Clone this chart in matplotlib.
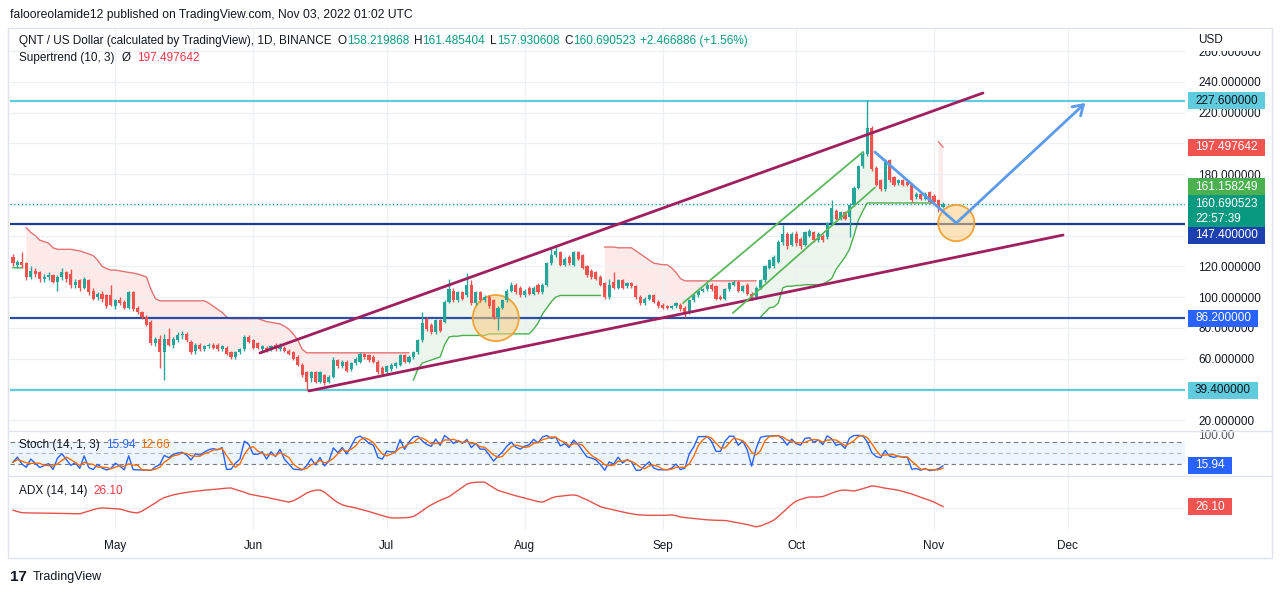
import numpy as np
import pandas as pd
import matplotlib
matplotlib.use("Agg")
import matplotlib.pyplot as plt
import matplotlib.dates as mdates
from matplotlib.patches import Rectangle
from matplotlib.lines import Line2D

plt.rcParams['font.family'] = ['Liberation Sans', 'DejaVu Sans']

# ---- data (QNT/USD daily) ----
start = '2022-04-08'
opens = [
    126, 121, 123, 122, 113, 117, 116, 112, 113, 114,
    110, 113, 116, 115, 108, 111, 106, 111, 104, 100,
    102, 101, 101, 94, 98, 97, 93, 103, 93, 90,
    87, 84, 70, 73, 64, 73, 69, 72, 75, 76,
    71, 65, 69, 66, 68, 69, 69, 66, 67, 64,
    61, 64, 66, 74, 72, 70, 66, 67, 66, 69,
    66, 67, 65, 64, 61, 56, 51, 47, 51, 45,
    49, 45, 48, 59, 55, 58, 53, 57, 58, 63,
    62, 61, 58, 54, 51, 53, 55, 56, 62, 58,
    61, 64, 72, 86, 82, 77, 85, 84, 97, 104,
    98, 103, 101, 108, 96, 103, 98, 100, 98, 87,
    93, 98, 104, 108, 106, 101, 106, 102, 108, 103,
    108, 122, 127, 129, 121, 126, 121, 129, 127, 120,
    117, 116, 113, 109, 100, 110, 106, 111, 107, 109,
    107, 100, 96, 99, 101, 97, 95, 94, 93, 94,
    95, 93, 90, 98, 101, 104, 105, 108, 107, 100,
    99, 105, 108, 110, 104, 108, 102, 100, 106, 111,
    119, 120, 123, 136, 141, 134, 141, 138, 134, 140,
    142, 137, 140, 139, 148, 156, 151, 155, 152, 160,
    171, 185, 193, 210, 184, 176, 170, 189, 178, 174,
    176, 175, 173, 165, 167, 164, 168, 166, 163, 158.219868,
]
highs = [
    128, 124, 129, 123, 120, 119, 117, 115, 116, 115,
    114, 119, 117, 118, 112, 112, 113, 112, 106, 103,
    104, 102, 108, 99, 100, 98, 104, 104, 94, 91,
    88, 85, 74, 75, 76, 80, 74, 77, 78, 77,
    72, 70, 70, 69, 70, 70, 70, 69, 68, 65,
    65, 67, 75, 75, 73, 71, 69, 68, 69, 70,
    70, 68, 66, 65, 62, 57, 52, 52, 52, 52,
    50, 49, 61, 60, 59, 59, 58, 61, 64, 63.5,
    63, 62, 59, 55, 56, 57, 58, 63, 63, 62,
    65, 73, 90, 87, 83, 86, 86, 98, 112, 106,
    104, 104, 115.6, 111, 104, 104, 101, 101, 99, 94,
    99, 105, 110, 109, 107, 105, 107, 107, 109, 109,
    123, 132.5, 134, 130, 126, 127, 130, 130, 128, 121,
    118, 117, 114, 110, 112, 116, 112, 112, 110, 110,
    108, 101, 100, 102, 102, 98, 96, 95, 95, 97,
    96, 94, 99, 102, 105, 106, 109, 109, 108, 101,
    106, 110, 111, 111, 108, 109, 103, 107, 112, 121,
    125, 127, 137, 147, 142, 142, 143, 139, 143, 144,
    143, 142, 141, 149, 163, 157, 156, 156, 161, 172,
    186, 195, 228, 211, 185, 177, 190, 190, 179, 177,
    177, 176, 174, 168, 168, 168, 169, 167, 164, 161.485404,
]
lows = [
    120, 119, 119, 111, 112, 113, 110, 110, 111, 109,
    104, 111, 110, 106, 106, 104, 105, 101, 98, 98,
    97, 93, 94, 92, 95, 92, 92, 91, 89, 86,
    81, 69, 68, 54, 46, 68, 67, 71, 73, 71,
    63, 63, 65, 65, 67, 66, 65, 65, 62, 60,
    60, 63, 65, 70, 66, 66, 65, 64, 65, 65,
    65, 64, 62, 59, 55, 48, 39.5, 45, 44, 44,
    43, 44, 47, 54, 54, 51, 52, 56, 57, 60,
    58, 57, 50, 49, 50, 52, 54, 55, 57, 57,
    60, 63, 71, 78, 76, 76, 77, 83, 96, 97,
    97, 98, 100, 95, 95, 97, 97, 93, 86, 78.5,
    92, 97, 103, 102, 100, 100, 101, 101, 102, 102,
    107, 121, 126, 120, 120, 121, 120, 124, 118, 113,
    112, 111, 107, 99, 99, 105, 105, 105, 106, 106,
    99, 95, 95, 98, 96, 93, 92, 92, 92, 93,
    91, 87, 89, 97, 100, 103, 104, 104, 98, 98,
    98, 104, 107, 103, 103, 101, 98, 99, 105, 110,
    118, 119, 122, 134, 131, 133, 133, 131, 133, 139,
    136, 136, 136, 138, 147, 150, 150, 150, 139, 159,
    170, 184, 192, 182, 172, 169, 169, 175, 172, 173,
    172, 172, 162, 164, 163, 163, 161, 161, 155.5, 157.930608,
]
closes = [
    122, 122.5, 121, 113, 117, 115, 112, 113, 114, 110,
    113, 116, 112, 108, 110, 106, 112, 103, 99, 102,
    99, 94, 95, 98, 96, 93, 103, 92, 90, 87,
    82, 70, 73, 64, 73, 69, 73, 75, 76, 72,
    64, 69, 66, 68, 69, 67, 66, 68, 63, 61,
    64, 66, 74, 71, 67, 67, 68, 65, 68, 66,
    69, 65, 63, 60, 56, 49, 45, 51, 45, 51,
    44, 48, 59, 55, 58, 52, 57, 60, 63, 61,
    59, 58, 51, 50, 55, 56, 57, 62, 58, 61,
    64, 72, 83, 79, 77, 85, 78, 97, 105, 98,
    103, 99, 108, 96, 103, 98, 100, 94, 87, 93,
    98, 104, 108, 103, 101, 104, 102, 106, 103, 108,
    122, 127, 130, 121, 125, 122, 129, 125, 119, 114,
    113, 112, 108, 100, 108, 106, 111, 106, 109, 107,
    100, 96, 99, 101, 97, 94, 93, 93, 94, 96,
    92, 89, 98, 101, 104, 105, 108, 105, 99, 99,
    105, 109, 110, 104, 107, 102, 99, 106, 111, 120,
    124, 126, 136, 141, 133, 141, 135, 133, 142, 143,
    137, 141, 137, 148, 158, 151, 155, 151, 160, 171,
    185, 193, 210, 183, 173, 170, 189, 176, 173, 176,
    173, 173, 163, 167, 164, 167, 162, 162, 158, 160.690523,
]
# Supertrend (10, 3) line as plotted
supertrend = (
    [119, 119, 119, 145, 142, 140, 137, 136, 135, 132,
     131, 131, 131, 131, 130.5, 130, 129, 128, 127, 124,
     120, 118.5, 117.5, 117.5, 117, 116.5, 116, 115.6, 115, 114,
     113, 105, 99]
    + [97.5] * 11
    + [96, 94, 92, 90, 87]
    + [86] * 7
    + [85, 84, 83.5, 83, 82.5, 81, 79, 76, 72, 66]
    + [63.7] * 24
    + [46, 53, 57, 58, 59, 60, 61, 69, 74]
    + [74.5, 74.5, 75, 75, 75, 75, 75, 75]
    + [76] * 10
    + [79, 83, 89, 93, 97, 100]
    + [101] * 10
    + [132.5, 132.5, 132.5, 132, 132, 132, 132]
    + [130, 128, 126, 124, 122, 121.5, 121, 121, 119, 116, 112]
    + [110.5] * 17
    + [87, 90, 93, 93.5, 96, 106, 107, 107, 107.5, 107.5,
       108, 108, 108, 108, 108.5, 110, 112, 118, 122, 126,
       131, 140, 150, 156]
    + [161.158249] * 16
    + [201, 197.497642]
)
adx = [
    22, 20.5, 19.2, 19, 18.9, 18.8, 18.8, 18.7, 18.7, 18.6,
    18.5, 18.4, 18.3, 18.2, 18.1, 18, 19.5, 21, 22.5, 24,
    24.4, 24.3, 24, 23.6, 23.3, 22, 20.5, 19.5, 19, 21,
    24, 27, 30, 33.5, 36, 37.5, 39, 40, 41, 41.8,
    42.5, 43, 43.6, 44.2, 44.6, 45, 45.5, 46, 46.5, 46.7,
    45, 43.5, 42, 40, 39, 38, 37.2, 36.3, 35.2, 34.2,
    33, 32, 31, 32.5, 35, 38, 41, 43, 44.2, 44.4,
    42, 38, 34, 30.5, 28, 26.5, 25.6, 24.5, 23.2, 22,
    20.5, 19, 17.5, 16, 14.5, 13.5, 13.3, 13.4, 13.6, 14,
    15, 18, 21.5, 25, 28, 30.5, 33, 35, 37, 40.5,
    44, 47.5, 51, 52.5, 53, 53.3, 53.2, 50, 47, 44,
    42.5, 41, 39.5, 38, 36.8, 35.5, 34.2, 33, 31.5, 31,
    33, 35.5, 37, 37.6, 38.2, 38.7, 39, 38, 35.5, 33.5,
    31, 28.5, 26, 24.5, 23.5, 22.3, 21.2, 20, 19, 18,
    17.2, 16.7, 16.5, 16.3, 16.3, 16.2, 16.2, 16.4, 16.7, 16,
    14.4, 13.8, 13.3, 12.8, 12.3, 11.8, 11.3, 11, 10.8, 10.7,
    10.6, 9.8, 8.8, 8, 7, 6, 4.8, 3.5, 4.5, 6.5,
    8.5, 11, 15, 19.5, 24, 28.5, 32, 34, 35.5, 36.7,
    36.7, 36.7, 37.2, 39, 41, 42.7, 44, 44.4, 43.8, 43.3,
    44.5, 46, 47.5, 49, 48.5, 47.5, 46.5, 45.8, 45, 44.2,
    42.8, 41.5, 40, 38.2, 36.4, 34.6, 33, 31, 28.5, 26.1,
]

levels = [227.6, 147.4, 86.2, 39.4]
upper_channel = [('2022-06-02 12:00', 63.6), ('2022-11-12 00:00', 232.7)]
lower_channel = [('2022-06-13 12:00', 38.9), ('2022-11-30 00:00', 140.3)]
green_a = [('2022-09-05 14:00', 96.1), ('2022-10-16 00:00', 194.3)]
green_b = [('2022-09-16 19:00', 89.6), ('2022-10-18 17:00', 171.2)]
blue_path = [('2022-10-18 17:00', 194.3), ('2022-11-06 00:00', 148.1), ('2022-12-05 00:00', 226.2)]
circles = [('2022-07-25 12:00', 86.3), ('2022-11-06 00:00', 148.1)]

# ---- derived ----
o = np.array(opens, float); h = np.array(highs, float)
l = np.array(lows, float); c = np.array(closes, float)
st = np.array(supertrend, float)
dates = pd.date_range(start, periods=len(c), freq='D')
x = mdates.date2num(dates)

hh = pd.Series(h).rolling(14, min_periods=1).max()
ll = pd.Series(l).rolling(14, min_periods=1).min()
stoch_k = (100 * (pd.Series(c) - ll) / (hh - ll)).values
stoch_d = pd.Series(stoch_k).rolling(3, min_periods=1).mean().values

def pts(seg):
    xs = mdates.date2num(pd.to_datetime([p[0] for p in seg], format='mixed'))
    ys = [p[1] for p in seg]
    return xs, ys

UP = '#26a69a'
DN = '#ef5350'
TXT = '#131722'
GRID = '#eef0f4'

W, H = 1280, 595
fig = plt.figure(figsize=(12.8, 5.95), dpi=100)
renderer = fig.canvas.get_renderer()

def box(left, top, right, bottom):
    return [left / W, 1 - bottom / H, (right - left) / W, (bottom - top) / H]

ax = fig.add_axes(box(10, 30, 1185, 431))
ax_s = fig.add_axes(box(10, 431, 1185, 476), sharex=ax)
ax_a = fig.add_axes(box(10, 476, 1185, 530), sharex=ax)

for a in (ax, ax_s, ax_a):
    for sp in a.spines.values():
        sp.set_visible(False)
    a.set_facecolor('none')

ax.set_xlim(x[0] - 0.67, x[0] + 263.4)
ax.set_ylim(12.85, 273.66)
ax_s.set_ylim(-12.7, 110)
ax_a.set_ylim(0, 60)

# grid
for a in (ax, ax_s, ax_a):
    a.xaxis.set_major_locator(mdates.MonthLocator())
    a.grid(axis='x', color=GRID, lw=1, zorder=0)
ticks = np.arange(20, 261, 20)
ax.set_yticks(ticks)
# labels sitting under a price tag are hidden, as on the screen
hidden = {40, 140, 160, 200}
ax.set_yticklabels(['' if t in hidden else '%.6f' % t for t in ticks])
ax.grid(axis='y', color=GRID, lw=1, zorder=0)
ax_a.axhline(25, color=GRID, lw=1, zorder=0)

# price axis labels
ax.yaxis.tick_right()
ax.tick_params(axis='y', length=0, pad=9.4, labelsize=8.5, labelcolor=TXT)
ax.tick_params(axis='x', length=0, labelbottom=False)
ax_s.yaxis.tick_right()
ax_s.set_yticks([100])
ax_s.set_yticklabels(['100.00'])
ax_s.tick_params(axis='y', length=0, pad=9.4, labelsize=8.5, labelcolor='#50535e')
ax_s.tick_params(axis='x', length=0, labelbottom=False)
ax_a.set_yticks([])
ax_a.xaxis.set_major_formatter(mdates.DateFormatter('%b'))
ax_a.tick_params(axis='x', length=0, pad=7.5, labelsize=8.5, labelcolor=TXT)

# supertrend
st_up = st < c
mid = (o + c) / 2
ax.fill_between(x, st, mid, where=st_up, color='#4caf50', alpha=0.1, lw=0, zorder=1)
ax.fill_between(x, st, mid, where=~st_up, color='#ef5350', alpha=0.12, lw=0, zorder=1)
ax.plot(x, np.where(st_up, st, np.nan), color='#4caf50', lw=1, zorder=2)
ax.plot(x, np.where(~st_up, st, np.nan), color='#e57373', lw=1, zorder=2)

# level lines
level_colors = ['#5fcbdc', '#1d3c8c', '#2b4ea6', '#5fcbdc']
for lv, lc in zip(levels, level_colors):
    ax.axhline(lv, color=lc, lw=1.6, zorder=2)
ax.axhline(c[-1], color='#089981', lw=0.9, ls=(0, (1, 2)), zorder=2)

# circles
cx, cy = pts(circles)
ax.scatter(cx, cy, s=[1100, 680], facecolor=(0.98, 0.80, 0.50, 0.55),
           edgecolor='#f2a33a', lw=1.3, zorder=2)

# candles
col = np.where(c >= o, UP, DN)
ax.vlines(x, l, h, colors=col, lw=1, zorder=3)
ax.bar(x, np.maximum(np.abs(c - o), 0.5), bottom=np.minimum(o, c), width=0.7,
       color=col, lw=0, zorder=4)

# drawings
for seg, colr, lw in [(upper_channel, '#a01f5e', 2.0), (lower_channel, '#a01f5e', 2.0),
                      (green_a, '#5cb85c', 1.3), (green_b, '#5cb85c', 1.3)]:
    xs, ys = pts(seg)
    ax.plot(xs, ys, color=colr, lw=lw, zorder=5, solid_capstyle='round')
bx, by = pts(blue_path)
ax.plot(bx[:2], by[:2], color='#5b9bea', lw=2.0, zorder=6, solid_capstyle='round')
ax.annotate('', xy=(bx[2], by[2]), xytext=(bx[1], by[1]),
            arrowprops=dict(arrowstyle='->,head_length=0.7,head_width=0.45',
                            color='#5b9bea', lw=2.0, shrinkA=0, shrinkB=0), zorder=6)

# stochastic
ax_s.axhspan(20, 80, color='#2196f3', alpha=0.08, lw=0)
for lv, lc in [(80, '#787b86'), (50, '#b2b5be'), (20, '#787b86')]:
    ax_s.axhline(lv, color=lc, lw=0.8, ls=(0, (4, 3)))
ax_s.plot(x, stoch_k, color='#2962ff', lw=1)
ax_s.plot(x, stoch_d, color='#ff6d00', lw=1)

# adx
ax_a.plot(x, adx, color='#e5534b', lw=1)

# frame and separators
fig.add_artist(Rectangle((8 / W, 1 - 558 / H), 1264 / W, 530 / H, transform=fig.transFigure,
                         fill=False, ec='#e0e3eb', lw=1))
for yy in (431, 476):
    fig.add_artist(Line2D([8 / W, 1272 / W], [1 - yy / H, 1 - yy / H],
                          transform=fig.transFigure, color='#e0e3eb', lw=1))
fig.add_artist(Rectangle((1186 / W, 1 - 51 / H), 84 / W, 22 / H, transform=fig.transFigure,
                         fc='white', ec='none'))
fig.text(1198 / W, 1 - 40 / H, 'USD', fontsize=8.5, color=TXT, va='center')

# price tags: fixed left edge, box grows with the text
def tag(axis, value, text, bg, fg='white', shift=0, lines=1):
    yd = axis.transData.transform((axis.get_xlim()[0], value))[1] + shift
    t = fig.text(1195 / W, yd / H, text, color=fg, fontsize=8.5, va='center', ha='left',
                 linespacing=1.35, zorder=6)
    bb = t.get_window_extent(renderer=renderer)
    hpx = 17 if lines == 1 else 32
    fig.add_artist(Rectangle((1188 / W, (yd - hpx / 2) / H), (bb.x1 + 7 - 1188) / W, hpx / H,
                             transform=fig.transFigure, fc=bg, ec='none', zorder=5))

tag(ax, levels[0], '227.600000', '#5fcbdc', fg=TXT)
tag(ax, st[-1], '197.497642', '#f05350')
tag(ax, st[-3], '161.158249', '#4caf50', shift=16)
tag(ax, c[-1], '160.690523\n22:57:39', '#089981', shift=-7.5, lines=2)
tag(ax, levels[1], '147.400000', '#1e3fae', shift=-11)
tag(ax, levels[2], '86.200000', '#2962ff')
tag(ax, levels[3], '39.400000', '#5fcbdc', fg=TXT)
tag(ax_s, 15.94, '15.94', '#2962ff')
tag(ax_a, adx[-1], '26.10', '#f05350')

# header rows
def put_row(xp, yp, pieces, size=8.5):
    cur = xp
    for txt, colr, gap in pieces:
        t = fig.text(cur / W, 1 - yp / H, txt, color=colr, fontsize=size, va='center', ha='left')
        cur += t.get_window_extent(renderer=renderer).width + gap

GRN = '#089981'
put_row(10, 15, [('falooreolamide12 published on TradingView.com, Nov 03, 2022 01:02 UTC', TXT, 0)], size=8.7)
put_row(19, 41, [('QNT / US Dollar (calculated by TradingView), 1D, BINANCE', TXT, 6),
                 ('O', TXT, 0), ('158.219868', GRN, 5), ('H', TXT, 0), ('161.485404', GRN, 5),
                 ('L', TXT, 0), ('157.930608', GRN, 5), ('C', TXT, 0), ('160.690523', GRN, 5),
                 ('+2.466886 (+1.56%)', GRN, 0)])
put_row(19, 58, [('Supertrend (10, 3)', TXT, 7), ('Ø', TXT, 7), ('197.497642', '#f23645', 0)])
put_row(19, 445, [('Stoch (14, 1, 3)', TXT, 6), ('15.94', '#2962ff', 5), ('12.66', '#ff6d00', 0)])
put_row(19, 491, [('ADX (14, 14)', TXT, 6), ('26.10', '#f23645', 0)])

fig.text(10 / W, 1 - 577 / H, '17', fontsize=11, fontweight='heavy', color=TXT, va='center')
fig.text(33 / W, 1 - 577 / H, 'TradingView', fontsize=9, color=TXT, va='center')

fig.savefig('out.png', dpi=100)
